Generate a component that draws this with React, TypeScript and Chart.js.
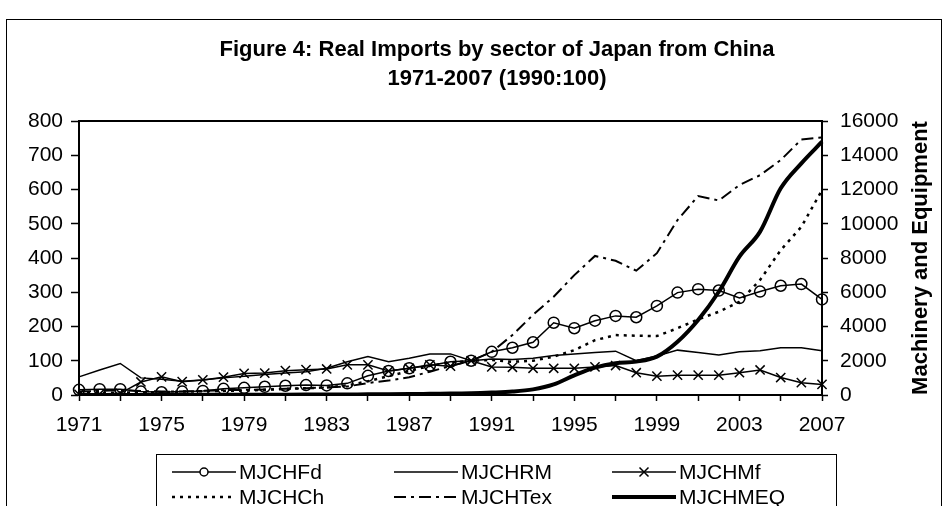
import React, { useEffect, useRef } from 'react';
import { Chart, registerables } from 'chart.js';

Chart.register(...registerables);

const years = ['1971','1972','1973','1974','1975','1976','1977','1978','1979','1980','1981','1982','1983','1984','1985','1986','1987','1988','1989','1990','1991','1992','1993','1994','1995','1996','1997','1998','1999','2000','2001','2002','2003','2004','2005','2006','2007'];

const mjchFd = [15,17,17,10,8,10,12,18,21,24,27,29,28,34,56,70,78,86,97,100,126,138,154,211,195,217,231,227,260,299,309,305,283,302,319,324,279];
const mjchRM = [53,73,92,50,46,40,44,50,55,60,64,68,78,97,112,97,107,120,120,100,105,104,107,115,120,124,128,100,114,131,124,117,126,129,138,138,129];
const mjchMf = [2,3,5,38,53,39,44,52,63,64,71,74,76,88,88,70,78,88,84,100,82,81,78,78,78,82,86,65,55,58,58,58,65,73,51,36,31];
const mjchCh = [5,6,7,8,8,10,11,12,13,15,18,20,22,28,40,55,70,85,95,100,102,97,100,112,131,160,175,173,172,195,221,243,272,336,423,491,598];
const mjchTex = [10,12,14,12,10,10,12,14,15,16,18,20,22,25,35,42,52,68,85,100,126,175,234,287,350,406,392,363,414,511,581,568,613,642,686,746,752];
const mjchMEQ = [3,4,5,6,7,8,9,12,15,18,20,22,25,30,40,45,55,70,85,100,140,200,330,620,1150,1600,1850,1950,2240,3110,4380,6030,8080,9540,12070,13530,14790];

const seriesNames = ['MJCHFd', 'MJCHRM', 'MJCHMf', 'MJCHCh', 'MJCHTex', 'MJCHMEQ'];
const titleLines = ['Figure 4: Real Imports by sector of Japan from China', '1971-2007 (1990:100)'];
const rightAxisTitle = 'Machinery and Equipment';

const FONT = '"Liberation Sans", Arial, Helvetica, sans-serif';

export default function App() {
  const ref = useRef<HTMLCanvasElement | null>(null);

  useEffect(() => {
    document.body.style.margin = '0';
    const canvas = ref.current;
    if (!canvas) return;

    const decor = {
      id: 'decor',
      beforeDraw(chart: any) {
        const c = chart.ctx;
        c.save();
        c.fillStyle = '#fff';
        c.fillRect(0, 0, chart.width, chart.height);
        c.restore();
      },
      afterDraw(chart: any) {
        const c = chart.ctx;
        const a = chart.chartArea;
        c.save();
        // outer frame
        c.strokeStyle = '#000';
        c.lineWidth = 1;
        c.setLineDash([]);
        c.strokeRect(6.5, 19.5, 935, 700);
        // plot box
        c.lineWidth = 2;
        c.strokeRect(a.left, a.top, a.right - a.left, a.bottom - a.top);
        // title
        c.fillStyle = '#000';
        c.textAlign = 'center';
        c.textBaseline = 'middle';
        c.font = `bold 22px ${FONT}`;
        c.fillText(titleLines[0], 497, 50);
        c.fillText(titleLines[1], 497, 79);
        // right axis title
        c.save();
        c.translate(921, (a.top + a.bottom) / 2);
        c.rotate(-Math.PI / 2);
        c.font = `bold 22px ${FONT}`;
        c.fillText(rightAxisTitle, 0, 0);
        c.restore();
        // legend
        c.lineWidth = 1;
        c.strokeRect(156.5, 454.5, 680, 200);
        const cols = [172, 394, 612];
        const rows = [472, 497];
        const lineLen = 64;
        chart.data.datasets.forEach((ds: any, i: number) => {
          const x0 = cols[i % 3];
          const y = rows[Math.floor(i / 3)];
          c.strokeStyle = '#000';
          c.lineWidth = ds.borderWidth;
          c.setLineDash(ds.borderDash || []);
          c.beginPath();
          c.moveTo(x0, y);
          c.lineTo(x0 + lineLen, y);
          c.stroke();
          c.setLineDash([]);
          const mx = x0 + lineLen / 2;
          c.lineWidth = 1.5;
          if (ds.pointStyle === 'circle' && ds.pointRadius > 0) {
            c.beginPath();
            c.arc(mx, y, 4, 0, Math.PI * 2);
            c.fillStyle = '#fff';
            c.fill();
            c.stroke();
          } else if (ds.pointStyle === 'crossRot' && ds.pointRadius > 0) {
            const r = 4.5;
            c.beginPath();
            c.moveTo(mx - r, y - r); c.lineTo(mx + r, y + r);
            c.moveTo(mx - r, y + r); c.lineTo(mx + r, y - r);
            c.stroke();
          }
          c.fillStyle = '#000';
          c.textAlign = 'left';
          c.textBaseline = 'middle';
          c.font = `21px ${FONT}`;
          c.fillText(ds.label, x0 + lineLen + 3, y + 1);
        });
        c.restore();
      },
    };

    const base = { fill: false, borderColor: '#000', pointBorderColor: '#000', pointBackgroundColor: 'rgba(0,0,0,0)', tension: 0 };

    const chart = new Chart(canvas, {
      type: 'line',
      data: {
        labels: years,
        datasets: [
          { ...base, label: seriesNames[0], data: mjchFd, borderWidth: 1.5, pointStyle: 'circle', pointRadius: 5.5, pointBorderWidth: 1.5, yAxisID: 'y' },
          { ...base, label: seriesNames[1], data: mjchRM, borderWidth: 1.5, pointRadius: 0, yAxisID: 'y' },
          { ...base, label: seriesNames[2], data: mjchMf, borderWidth: 1.5, pointStyle: 'crossRot', pointRadius: 6.5, pointBorderWidth: 1.5, yAxisID: 'y' },
          { ...base, label: seriesNames[3], data: mjchCh, borderWidth: 2.5, borderDash: [3, 5], pointRadius: 0, yAxisID: 'y' },
          { ...base, label: seriesNames[4], data: mjchTex, borderWidth: 2, borderDash: [12, 5, 3, 5], pointRadius: 0, yAxisID: 'y' },
          { ...base, label: seriesNames[5], data: mjchMEQ, borderWidth: 4, pointRadius: 0, cubicInterpolationMode: 'monotone', yAxisID: 'y1' },
        ],
      },
      options: {
        animation: false,
        responsive: false,
        maintainAspectRatio: false,
        layout: { padding: { top: 121, left: 0, right: 41, bottom: 71 } },
        plugins: { legend: { display: false }, title: { display: false }, tooltip: { enabled: false } },
        scales: {
          x: {
            offset: false,
            grid: {
              display: true,
              drawOnChartArea: false,
              drawTicks: true,
              tickLength: 6,
              tickWidth: 1.5,
              tickColor: (ctx: any) => (ctx.index % 2 === 0 ? '#000' : 'rgba(0,0,0,0)'),
            },
            border: { display: true, color: '#000', width: 2 },
            ticks: {
              autoSkip: false,
              maxRotation: 0,
              minRotation: 0,
              color: '#000',
              padding: 12,
              font: { family: FONT, size: 21 },
              callback: (_v: any, i: number) => (i % 4 === 0 ? years[i] : ''),
            },
            afterFit: (s: any) => { s.height = 40; },
          },
          y: {
            position: 'left',
            min: 0,
            max: 800,
            grid: { display: true, drawOnChartArea: false, drawTicks: true, tickLength: 8, tickWidth: 1.5, tickColor: '#000' },
            border: { display: true, color: '#000', width: 2 },
            ticks: { stepSize: 100, color: '#000', padding: 8, font: { family: FONT, size: 21 } },
            afterFit: (s: any) => { s.width = 79; },
          },
          y1: {
            position: 'right',
            min: 0,
            max: 16000,
            grid: { display: true, drawOnChartArea: false, drawTicks: true, tickLength: 6, tickWidth: 1.5, tickColor: '#000' },
            border: { display: true, color: '#000', width: 2 },
            ticks: { stepSize: 2000, color: '#000', padding: 12, font: { family: FONT, size: 21 }, callback: (v: any) => String(v) },
            afterFit: (s: any) => { s.width = 80; },
          },
        },
      },
      plugins: [decor],
    } as any);

    return () => { chart.destroy(); };
  }, []);

  return (
    <div style={{ position: 'fixed', left: 0, top: 0, width: 943, height: 506 }}>
      <canvas ref={ref} width={943} height={506} style={{ display: 'block', width: 943, height: 506 }} />
    </div>
  );
}
